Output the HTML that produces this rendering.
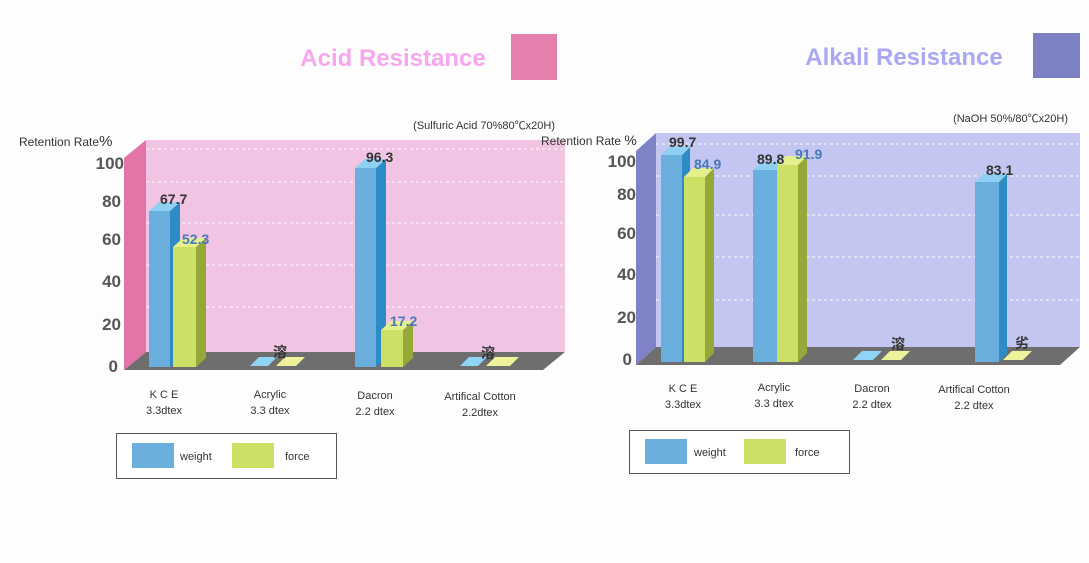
<!DOCTYPE html>
<html><head><meta charset="utf-8"><style>
body{margin:0;background:#fff;}
svg{display:block;font-family:"Liberation Sans","Noto Sans CJK SC",sans-serif;}
</style></head><body>
<svg width="1089" height="563" viewBox="0 0 1089 563" xmlns="http://www.w3.org/2000/svg">
<rect width="1089" height="563" fill="#fdfdfd"/>
<text x="393" y="66" font-size="24" font-weight="bold" fill="#f8a6ee" text-anchor="middle">Acid Resistance</text>
<rect x="511" y="34" width="46" height="46" fill="#e480ae"/>
<text x="904" y="65" font-size="24" font-weight="bold" fill="#aaa8f2" text-anchor="middle">Alkali Resistance</text>
<rect x="1033" y="33" width="47" height="45" fill="#7b81c2"/>
<text x="555" y="129" font-size="11" fill="#333" text-anchor="end">(Sulfuric Acid 70%80℃x20H)</text>
<text x="1068" y="122" font-size="11" fill="#333" text-anchor="end">(NaOH 50%/80℃x20H)</text>

<polygon points="146,140 565,140 565,352 146,352" fill="#f2c4e4"/>
<g stroke="#fff" stroke-dasharray="3,3" stroke-width="1" opacity="0.9">
<line x1="146" y1="149" x2="565" y2="149"/><line x1="146" y1="182" x2="565" y2="182"/>
<line x1="146" y1="223" x2="565" y2="223"/><line x1="146" y1="265" x2="565" y2="265"/>
<line x1="146" y1="307" x2="565" y2="307"/>
</g>
<polygon points="124,158 146,140 146,352 124,370" fill="#e474a8"/>
<polygon points="124,370 146,352 565,352 543,370" fill="#6e6e6e"/>
<text x="19" y="146" font-size="12" fill="#333">Retention Rate<tspan font-size="15">%</tspan></text>
<g font-size="17" font-weight="bold" fill="#555" text-anchor="end">
<text x="124" y="169">100</text><text x="121" y="207">80</text><text x="121" y="245">60</text>
<text x="121" y="287">40</text><text x="121" y="330">20</text><text x="118" y="372">0</text>
</g>
<rect x="149" y="211" width="21" height="156" fill="#6aaedd"/>
<polygon points="170,211 180,202 180,358 170,367" fill="#2d8cc4"/>
<polygon points="149,211 159,202 180,202 170,211" fill="#8fd0f2"/>
<rect x="173" y="247" width="23" height="120" fill="#cde066"/>
<polygon points="196,247 206,238 206,358 196,367" fill="#96a83a"/>
<polygon points="173,247 183,238 206,238 196,247" fill="#e4f08c"/>
<rect x="355" y="168" width="21" height="199" fill="#6aaedd"/>
<polygon points="376,168 386,159 386,358 376,367" fill="#2d8cc4"/>
<polygon points="355,168 365,159 386,159 376,168" fill="#8fd0f2"/>
<rect x="381" y="330" width="22" height="37" fill="#cde066"/>
<polygon points="403,330 413,321 413,358 403,367" fill="#96a83a"/>
<polygon points="381,330 391,321 413,321 403,330" fill="#e4f08c"/>
<polygon points="250,366 259,357 277,357 268,366" fill="#8fd4f4"/>
<polygon points="276,366 285,357 305,357 296,366" fill="#eef29a"/>
<polygon points="460,366 469,357 487,357 478,366" fill="#8fd4f4"/>
<polygon points="486,366 495,357 519,357 510,366" fill="#eef29a"/>
<g font-size="14" font-weight="bold">
<text x="160" y="204" fill="#333">67.7</text>
<text x="182" y="244" fill="#4a78b8">52.3</text>
<text x="366" y="162" fill="#333">96.3</text>
<text x="390" y="326" fill="#4a78b8">17.2</text>
<text x="273" y="357" fill="#333">溶</text>
<text x="481" y="358" fill="#333">溶</text>
</g>
<g font-size="11" fill="#333" text-anchor="middle">
<text x="164" y="398">K C E</text><text x="164" y="414">3.3dtex</text>
<text x="270" y="398">Acrylic</text><text x="270" y="414">3.3 dtex</text>
<text x="375" y="399">Dacron</text><text x="375" y="415">2.2 dtex</text>
<text x="480" y="400">Artifical Cotton</text><text x="480" y="416">2.2dtex</text>
</g>
<rect x="116.5" y="433.5" width="220" height="45" fill="#fff" stroke="#555"/>
<rect x="132" y="443" width="42" height="25" fill="#6aaedd"/>
<text x="180" y="460" font-size="11" fill="#333">weight</text>
<rect x="232" y="443" width="42" height="25" fill="#cde066"/>
<text x="285" y="460" font-size="11" fill="#333">force</text>

<polygon points="656,133 1080,133 1080,347 656,347" fill="#c2c6f0"/>
<g stroke="#fff" stroke-dasharray="3,3" stroke-width="1" opacity="0.9">
<line x1="656" y1="144" x2="1080" y2="144"/><line x1="656" y1="176" x2="1080" y2="176"/>
<line x1="656" y1="215" x2="1080" y2="215"/><line x1="656" y1="257" x2="1080" y2="257"/>
<line x1="656" y1="300" x2="1080" y2="300"/>
</g>
<polygon points="636,151 656,133 656,347 636,365" fill="#7e82c6"/>
<polygon points="636,365 656,347 1080,347 1060,365" fill="#6e6e6e"/>
<text x="541" y="145" font-size="12" fill="#333">Retention Rate <tspan font-size="14">%</tspan></text>
<g font-size="17" font-weight="bold" fill="#555" text-anchor="end">
<text x="636" y="167">100</text><text x="636" y="200">80</text><text x="636" y="239">60</text>
<text x="636" y="280">40</text><text x="636" y="323">20</text><text x="632" y="365">0</text>
</g>
<rect x="661" y="155" width="21" height="207" fill="#6aaedd"/>
<polygon points="682,155 690,147 690,354 682,362" fill="#2d8cc4"/>
<polygon points="661,155 669,147 690,147 682,155" fill="#8fd0f2"/>
<rect x="684" y="177" width="21" height="185" fill="#cde066"/>
<polygon points="705,177 714,168 714,353 705,362" fill="#96a83a"/>
<polygon points="684,177 693,168 714,168 705,177" fill="#e4f08c"/>
<rect x="753" y="170" width="24" height="192" fill="#6aaedd"/>
<polygon points="777,170 785,162 785,354 777,362" fill="#2d8cc4"/>
<polygon points="753,170 761,162 785,162 777,170" fill="#8fd0f2"/>
<rect x="777" y="165" width="21" height="197" fill="#cde066"/>
<polygon points="798,165 807,156 807,353 798,362" fill="#96a83a"/>
<polygon points="777,165 786,156 807,156 798,165" fill="#e4f08c"/>
<rect x="975" y="182" width="24" height="180" fill="#6aaedd"/>
<polygon points="999,182 1007,174 1007,354 999,362" fill="#2d8cc4"/>
<polygon points="975,182 983,174 1007,174 999,182" fill="#8fd0f2"/>
<polygon points="853,360 862,351 882,351 873,360" fill="#8fd4f4"/>
<polygon points="881,360 890,351 910,351 901,360" fill="#eef29a"/>
<polygon points="1003,360 1012,351 1032,351 1023,360" fill="#eef29a"/>
<g font-size="14" font-weight="bold">
<text x="669" y="147" fill="#333">99.7</text>
<text x="694" y="169" fill="#4a78b8">84.9</text>
<text x="757" y="164" fill="#333">89.8</text>
<text x="795" y="159" fill="#4a78b8">91.9</text>
<text x="986" y="175" fill="#333">83.1</text>
<text x="891" y="349" fill="#333">溶</text>
<text x="1015" y="348" fill="#333">劣</text>
</g>
<g font-size="11" fill="#333" text-anchor="middle">
<text x="683" y="392">K C E</text><text x="683" y="408">3.3dtex</text>
<text x="774" y="391">Acrylic</text><text x="774" y="407">3.3 dtex</text>
<text x="872" y="392">Dacron</text><text x="872" y="408">2.2 dtex</text>
<text x="974" y="393">Artifical Cotton</text><text x="974" y="409">2.2 dtex</text>
</g>
<rect x="629.5" y="430.5" width="220" height="43" fill="#fff" stroke="#555"/>
<rect x="645" y="439" width="42" height="25" fill="#6aaedd"/>
<text x="694" y="456" font-size="11" fill="#333">weight</text>
<rect x="744" y="439" width="42" height="25" fill="#cde066"/>
<text x="795" y="456" font-size="11" fill="#333">force</text>
</svg>
</body></html>
